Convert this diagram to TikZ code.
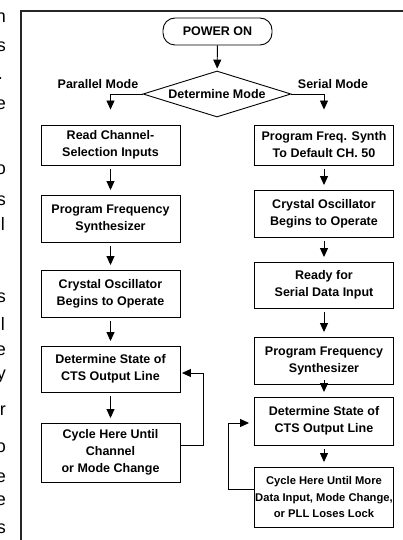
\documentclass[tikz,border=0pt]{standalone}
\usepackage{fontspec}
\setmainfont{Liberation Sans}
\usetikzlibrary{shapes.geometric}
\usetikzlibrary{arrows.meta}

\begin{document}
\begin{tikzpicture}[x=1pt,y=-1pt,
  font=\bfseries\fontsize{12.5}{17}\selectfont,
  stepbox/.style={draw,line width=0.9pt,minimum width=139pt,align=center,inner sep=0pt},
  flow/.style={-{Triangle[length=9pt,width=8pt]},line width=0.9pt,shorten <=4pt,shorten >=4.5pt},
  fragtext/.style={anchor=base east,inner sep=0pt,font=\mdseries\fontsize{18}{20}\selectfont}]

\useasboundingbox (0,0) rectangle (402,540);

% text of the page beside the figure
\begin{scope}
\clip (0,0) rectangle (19,540);
\foreach \xf/\yf/\c in {6/23/n,6/52/s,3/80/.,6/110/e,6/175/o,6/205/s,5/230/l,6/302/s,5/330/l,6/355/e,6/379/y,6/415/r,6/452/o,6/482/e,6/505/e,6/533/s}
  \node[fragtext] (frag\yf) at (\xf,\yf) {\c};
\end{scope}

% frame
\draw[line width=2pt,black!85] (21,541) -- (21,11) -- (403,11);

% start and mode choice
\node[draw,rounded corners=12pt,minimum width=109pt,minimum height=27pt,inner sep=0pt,line width=0.9pt] (power) at (217.5,31.5) {POWER ON};
\node[draw,diamond,aspect=3.2,minimum width=148pt,minimum height=46pt,inner sep=0pt,line width=0.9pt] (mode) at (217,94) {Determine Mode};
\node (parlabel) at (98,84) {Parallel Mode};
\node (serlabel) at (333,84) {Serial Mode};

% parallel mode
\node[stepbox,minimum height=40pt] (L1) at (110.5,145) {Read Channel-\\Selection Inputs};
\node[stepbox,minimum height=47pt] (L2) at (110.5,218.5) {Program Frequency\\Synthesizer};
\node[stepbox,minimum height=47pt] (L3) at (110.5,293.5) {Crystal Oscillator\\Begins to Operate};
\node[stepbox,minimum height=46pt] (L4) at (110.5,369) {Determine State of\\CTS Output Line};
\node[stepbox,minimum height=59pt] (L5) at (110.5,452.5) {Cycle Here Until\\Channel\\or Mode Change};

% serial mode
\node[stepbox,minimum height=40pt] (R1) at (324,145) {Program Freq. Synth\\To Default CH. 50};
\node[stepbox,minimum height=47pt] (R2) at (324,213.5) {Crystal Oscillator\\Begins to Operate};
\node[stepbox,minimum height=46pt] (R3) at (324,285) {Ready for\\Serial Data Input};
\node[stepbox,minimum height=47pt] (R4) at (324,360.5) {Program Frequency\\Synthesizer};
\node[stepbox,minimum height=48pt] (R5) at (324,421) {Determine State of\\CTS Output Line};
\node[stepbox,minimum height=60pt,font=\bfseries\fontsize{11.2}{16.5}\selectfont] (R6) at (324,497) {Cycle Here Until More\\Data Input, Mode Change,\\or PLL Loses Lock};

% arrows
\draw[flow,shorten <=0pt,shorten >=2pt] (power) -- (mode);
\draw[flow,shorten <=0pt,shorten >=15pt] (mode.west) -| (L1.north);
\draw[flow,shorten <=0pt,shorten >=15pt] (mode.east) -| (R1.north);
\foreach \a/\b in {L1/L2,L2/L3,L3/L4,L4/L5,R1/R2,R2/R3,R3/R4,R4/R5,R5/R6}
  \draw[flow] (\a) -- (\b);

% loops back
\draw[flow,shorten <=0pt,shorten >=1.5pt] ([yshift=7.5pt]L5.east) -- ++(23,0) |- ([yshift=-4pt]L4.east);
\draw[flow,shorten <=0pt,shorten >=5pt] ([yshift=8pt]R6.west) -- ++(-26,0) |- ([yshift=-2pt]R5.west);

\end{tikzpicture}
\end{document}
